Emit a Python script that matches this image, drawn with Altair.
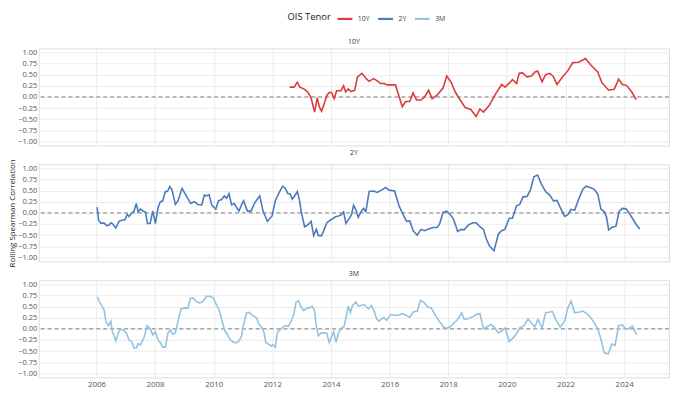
import altair as alt
import pandas as pd

tenors = ["10Y", "2Y", "3M"]
colors = ["#dc3b3b", "#4b7bbe", "#93c3e3"]

y10_year = [2012.59, 2012.74, 2012.85, 2012.94, 2013.10, 2013.21, 2013.32, 2013.44, 2013.53, 2013.60,
            2013.68, 2013.77, 2013.86, 2013.94, 2014.02, 2014.11, 2014.19, 2014.34, 2014.43, 2014.50,
            2014.59, 2014.68, 2014.81, 2014.90, 2015.06, 2015.20, 2015.30, 2015.45, 2015.58, 2015.69,
            2015.81, 2015.92, 2016.20, 2016.43, 2016.54, 2016.69, 2016.80, 2016.92, 2017.07, 2017.19,
            2017.33, 2017.45, 2017.62, 2017.82, 2017.95, 2018.09, 2018.24, 2018.38, 2018.58, 2018.77,
            2018.95, 2019.08, 2019.20, 2019.40, 2019.59, 2019.82, 2019.94, 2020.10, 2020.19, 2020.33,
            2020.42, 2020.53, 2020.69, 2020.84, 2020.96, 2021.05, 2021.20, 2021.32, 2021.46, 2021.57,
            2021.71, 2021.89, 2022.08, 2022.25, 2022.45, 2022.68, 2022.87, 2023.10, 2023.24, 2023.47,
            2023.66, 2023.81, 2023.94, 2024.08, 2024.26, 2024.41]
y10_val = [0.22, 0.22, 0.33, 0.22, 0.17, 0.11, -0.02, -0.34, -0.02, -0.22,
           -0.32, -0.15, 0.04, 0.10, 0.10, -0.04, 0.14, 0.14, 0.25, 0.11,
           0.18, 0.12, 0.15, 0.45, 0.53, 0.41, 0.35, 0.41, 0.36, 0.30,
           0.30, 0.27, 0.27, -0.22, -0.11, -0.10, 0.09, -0.07, -0.07, 0.00,
           0.15, -0.04, 0.04, 0.20, 0.47, 0.34, 0.11, -0.04, -0.24, -0.28,
           -0.44, -0.27, -0.34, -0.19, 0.04, 0.28, 0.22, 0.32, 0.39, 0.30,
           0.53, 0.54, 0.45, 0.47, 0.56, 0.58, 0.34, 0.50, 0.53, 0.47,
           0.28, 0.44, 0.59, 0.77, 0.78, 0.86, 0.71, 0.56, 0.32, 0.15,
           0.17, 0.40, 0.28, 0.26, 0.11, -0.06]

y2_year = [2006.02, 2006.07, 2006.15, 2006.26, 2006.34, 2006.41, 2006.50, 2006.56, 2006.66, 2006.77,
           2006.88, 2006.97, 2007.05, 2007.11, 2007.20, 2007.28, 2007.36, 2007.42, 2007.50, 2007.58,
           2007.67, 2007.74, 2007.83, 2007.92, 2008.01, 2008.10, 2008.18, 2008.26, 2008.35, 2008.42,
           2008.50, 2008.58, 2008.69, 2008.78, 2008.92, 2009.05, 2009.21, 2009.34, 2009.46, 2009.59,
           2009.68, 2009.76, 2009.84, 2009.93, 2010.07, 2010.16, 2010.27, 2010.36, 2010.44, 2010.52,
           2010.61, 2010.70, 2010.78, 2010.86, 2010.95, 2011.02, 2011.08, 2011.15, 2011.27, 2011.40,
           2011.57, 2011.68, 2011.83, 2011.99, 2012.10, 2012.25, 2012.35, 2012.44, 2012.53, 2012.60,
           2012.68, 2012.76, 2012.85, 2012.93, 2012.98, 2013.10, 2013.21, 2013.32, 2013.41, 2013.50,
           2013.57, 2013.68, 2013.77, 2013.86, 2013.98, 2014.07, 2014.14, 2014.25, 2014.34, 2014.43,
           2014.51, 2014.62, 2014.70, 2014.77, 2014.85, 2014.93, 2015.02, 2015.11, 2015.19, 2015.30,
           2015.45, 2015.58, 2015.72, 2015.86, 2015.98, 2016.17, 2016.32, 2016.46, 2016.58, 2016.69,
           2016.80, 2016.94, 2017.07, 2017.19, 2017.33, 2017.48, 2017.62, 2017.71, 2017.82, 2017.95,
           2018.07, 2018.18, 2018.32, 2018.43, 2018.54, 2018.69, 2018.84, 2018.95, 2019.08, 2019.20,
           2019.29, 2019.40, 2019.56, 2019.71, 2019.82, 2019.93, 2020.08, 2020.19, 2020.33, 2020.44,
           2020.55, 2020.69, 2020.80, 2020.92, 2021.05, 2021.18, 2021.32, 2021.46, 2021.59, 2021.71,
           2021.85, 2021.97, 2022.08, 2022.19, 2022.31, 2022.45, 2022.59, 2022.70, 2022.84, 2022.98,
           2023.10, 2023.21, 2023.32, 2023.40, 2023.47, 2023.58, 2023.72, 2023.83, 2023.94, 2024.06,
           2024.17, 2024.28, 2024.40, 2024.53]
y2_val = [0.13, -0.16, -0.23, -0.23, -0.28, -0.28, -0.22, -0.25, -0.34, -0.19,
          -0.16, -0.16, -0.03, -0.08, -0.01, 0.04, 0.21, 0.02, 0.09, 0.04,
          0.02, -0.24, -0.24, 0.04, -0.24, 0.12, 0.25, 0.27, 0.48, 0.48,
          0.59, 0.51, 0.19, 0.27, 0.55, 0.40, 0.21, 0.25, 0.19, 0.18,
          0.40, 0.38, 0.41, 0.18, 0.08, 0.27, 0.30, 0.38, 0.33, 0.43,
          0.18, 0.21, 0.12, 0.04, 0.18, 0.27, 0.16, 0.04, 0.04, 0.23,
          0.38, 0.04, -0.19, -0.07, 0.27, 0.48, 0.60, 0.55, 0.43, 0.43,
          0.31, 0.38, 0.48, 0.27, 0.04, -0.31, -0.27, -0.19, -0.51, -0.37,
          -0.51, -0.51, -0.37, -0.22, -0.16, -0.13, -0.09, -0.07, -0.05, 0.02,
          -0.24, -0.13, -0.04, 0.17, 0.07, -0.10, 0.02, 0.10, 0.03, 0.48,
          0.49, 0.46, 0.51, 0.57, 0.51, 0.49, 0.16, -0.04, -0.19, -0.18,
          -0.40, -0.50, -0.37, -0.40, -0.36, -0.33, -0.33, -0.24, 0.01, 0.04,
          -0.04, -0.14, -0.42, -0.37, -0.38, -0.27, -0.22, -0.22, -0.31, -0.37,
          -0.57, -0.74, -0.85, -0.48, -0.40, -0.37, -0.12, -0.12, 0.16, 0.19,
          0.36, 0.37, 0.51, 0.81, 0.85, 0.64, 0.48, 0.40, 0.27, 0.28,
          0.08, -0.08, -0.04, 0.08, 0.06, 0.31, 0.53, 0.60, 0.57, 0.53,
          0.42, 0.08, 0.03, -0.10, -0.38, -0.33, -0.30, 0.04, 0.10, 0.09,
          0.00, -0.12, -0.25, -0.36]

m3_year = [2006.02, 2006.11, 2006.20, 2006.26, 2006.32, 2006.41, 2006.49, 2006.54, 2006.66, 2006.75,
           2006.82, 2006.94, 2007.02, 2007.11, 2007.20, 2007.28, 2007.36, 2007.42, 2007.50, 2007.62,
           2007.73, 2007.84, 2007.92, 2008.01, 2008.10, 2008.18, 2008.26, 2008.35, 2008.44, 2008.52,
           2008.60, 2008.69, 2008.78, 2008.89, 2009.03, 2009.12, 2009.20, 2009.31, 2009.39, 2009.50,
           2009.59, 2009.68, 2009.76, 2009.88, 2009.99, 2010.07, 2010.18, 2010.27, 2010.38, 2010.47,
           2010.56, 2010.67, 2010.78, 2010.86, 2010.95, 2011.02, 2011.12, 2011.20, 2011.29, 2011.40,
           2011.46, 2011.54, 2011.63, 2011.72, 2011.77, 2011.88, 2011.97, 2012.02, 2012.10, 2012.17,
           2012.25, 2012.33, 2012.44, 2012.55, 2012.64, 2012.73, 2012.81, 2012.89, 2012.98, 2013.07,
           2013.16, 2013.27, 2013.36, 2013.44, 2013.49, 2013.57, 2013.66, 2013.77, 2013.86, 2013.94,
           2014.02, 2014.09, 2014.17, 2014.26, 2014.36, 2014.45, 2014.52, 2014.59, 2014.66, 2014.73,
           2014.85, 2014.93, 2015.04, 2015.15, 2015.27, 2015.38, 2015.47, 2015.56, 2015.64, 2015.72,
           2015.81, 2015.90, 2016.03, 2016.15, 2016.28, 2016.43, 2016.54, 2016.69, 2016.82, 2016.94,
           2017.05, 2017.16, 2017.30, 2017.42, 2017.56, 2017.71, 2017.84, 2017.93, 2018.05, 2018.18,
           2018.32, 2018.46, 2018.55, 2018.69, 2018.84, 2018.97, 2019.08, 2019.20, 2019.31, 2019.45,
           2019.56, 2019.71, 2019.82, 2019.94, 2020.08, 2020.19, 2020.33, 2020.44, 2020.58, 2020.72,
           2020.84, 2020.95, 2021.06, 2021.20, 2021.32, 2021.44, 2021.55, 2021.68, 2021.82, 2021.97,
           2022.08, 2022.19, 2022.31, 2022.45, 2022.59, 2022.73, 2022.84, 2022.98, 2023.10, 2023.21,
           2023.32, 2023.46, 2023.58, 2023.69, 2023.81, 2023.94, 2024.06, 2024.17, 2024.28, 2024.42]
m3_val = [0.72, 0.60, 0.49, 0.42, 0.17, 0.07, 0.17, -0.05, -0.27, -0.09,
          -0.01, -0.04, -0.09, -0.25, -0.28, -0.43, -0.43, -0.33, -0.36, -0.20,
          0.07, -0.01, -0.14, -0.07, -0.25, -0.31, -0.41, -0.41, -0.09, -0.03,
          -0.12, -0.09, 0.17, 0.45, 0.47, 0.46, 0.68, 0.69, 0.62, 0.58,
          0.60, 0.66, 0.73, 0.73, 0.69, 0.57, 0.43, 0.21, -0.05, -0.13,
          -0.24, -0.30, -0.31, -0.28, -0.16, 0.10, 0.36, 0.37, 0.32, 0.27,
          0.25, 0.10, 0.04, -0.09, -0.30, -0.35, -0.39, -0.35, -0.41, -0.09,
          -0.03, 0.02, 0.07, 0.06, 0.17, 0.32, 0.60, 0.63, 0.49, 0.41,
          0.46, 0.47, 0.51, 0.40, 0.10, -0.16, -0.09, -0.09, -0.10, -0.31,
          -0.18, -0.07, -0.30, -0.09, 0.02, 0.06, 0.28, 0.51, 0.36, 0.52,
          0.60, 0.51, 0.53, 0.54, 0.45, 0.52, 0.40, 0.22, 0.17, 0.22,
          0.25, 0.19, 0.32, 0.31, 0.30, 0.34, 0.31, 0.26, 0.39, 0.39,
          0.64, 0.60, 0.49, 0.47, 0.30, 0.15, 0.04, 0.01, 0.04, 0.12,
          0.21, 0.36, 0.21, 0.23, 0.27, 0.33, 0.34, 0.00, 0.04, 0.10,
          0.04, -0.09, -0.05, 0.02, -0.28, -0.22, -0.11, 0.02, 0.07, 0.22,
          0.13, 0.04, 0.21, 0.02, 0.36, 0.37, 0.39, 0.19, 0.04, 0.17,
          0.47, 0.62, 0.36, 0.37, 0.40, 0.34, 0.27, 0.13, 0.00, -0.24,
          -0.54, -0.56, -0.34, -0.37, 0.07, 0.09, -0.01, 0.01, 0.06, -0.13]

x_ticks = [2006, 2008, 2010, 2012, 2014, 2016, 2018, 2020, 2022, 2024]
y_ticks = [-1.0, -0.75, -0.5, -0.25, 0.0, 0.25, 0.5, 0.75, 1.0]

FONT = "Open Sans"
PW, PH = 636, 98


def panel(name, years, vals, show_x, ytitle, show_legend):
    df = pd.DataFrame({"year": years, "corr": vals, "tenor": [name] * len(years)})
    if show_legend:
        legend = alt.Legend(
            title="OIS Tenor", orient="none", legendX=251, legendY=-39,
            direction="horizontal", titleOrient="left", symbolType="stroke",
            symbolStrokeWidth=2.2, symbolSize=225, labelFontSize=7, titleFontSize=9.5,
            titleFontWeight="normal", titleColor="#222", labelColor="#444",
            columnPadding=4, titlePadding=5, labelOffset=4, labelFont=FONT, titleFont=FONT,
        )
    else:
        legend = None
    color = alt.Color("tenor:N", scale=alt.Scale(domain=tenors, range=colors), legend=legend)
    line = alt.Chart(df).mark_line(strokeWidth=1.6, clip=True).encode(
        x=alt.X("year:Q",
                scale=alt.Scale(domain=[2004.03, 2025.53], nice=False, zero=False),
                axis=alt.Axis(values=x_ticks, tickCount=30, format="d", labels=show_x,
                              ticks=False, domain=False, title=None, grid=True,
                              gridColor="#ebebeb", labelFontSize=8, labelColor="#555",
                              labelPadding=3, labelFont=FONT, labelOverlap=False)),
        y=alt.Y("corr:Q",
                scale=alt.Scale(domain=[-1.09, 1.09], nice=False, zero=False),
                axis=alt.Axis(values=y_ticks, tickCount=30, format=".2f", ticks=False,
                              domain=False, labelOverlap=False,
                              title=ytitle, grid=True, gridColor="#ebebeb",
                              labelFontSize=7.5, labelColor="#555", labelPadding=2,
                              labelFont=FONT, titleFont=FONT, titleFontSize=8,
                              titleFontWeight="normal", titleColor="#222",
                              titlePadding=1)),
        color=color,
    )
    zero = alt.Chart(pd.DataFrame({"z": [0.0]})).mark_rule(
        color="#808080", strokeWidth=1, strokeDash=[4, 3]
    ).encode(y=alt.datum(0.0))
    return alt.layer(zero, line).properties(
        width=PW, height=PH,
        title=alt.TitleParams(name, fontSize=7, font=FONT, fontWeight="normal",
                              color="#333", anchor="middle", offset=3),
    )


p1 = panel("10Y", y10_year, y10_val, False, "", True)
p2 = panel("2Y", y2_year, y2_val, False, "Rolling Spearman Correlation", False)
p3 = panel("3M", m3_year, m3_val, True, "", False)

chart = alt.vconcat(p1, p2, p3, spacing=1).configure_view(stroke=None).configure(
    font=FONT, padding={"left": 0, "top": 0, "right": 0, "bottom": 0}
)

chart.save("out.html", embed_options={"renderer": "svg", "actions": False})
